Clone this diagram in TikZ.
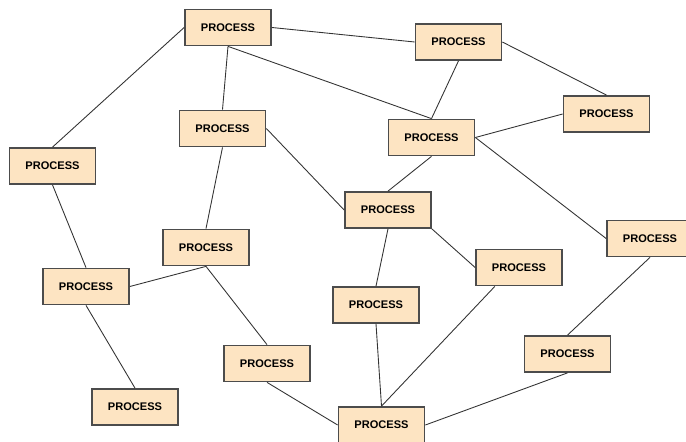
\documentclass[tikz,border=0pt]{standalone}
\usepackage{fontspec}
\setmainfont{Liberation Sans}
\usepackage{tikz}
\usetikzlibrary{positioning,calc}

\definecolor{peach}{RGB}{253,228,194}

\begin{document}
\begin{tikzpicture}[x=0.02cm,y=-0.02cm,semithick,
    process/.style={draw=black!70,line width=1pt,fill=peach,rectangle,minimum width=1.72cm,minimum height=0.72cm,inner sep=0pt,font=\fontsize{6.3}{7}\selectfont\bfseries},
    link/.style={draw=black!80,line width=0.5pt}]
    \useasboundingbox (0,0) rectangle (686,442);

    \node[process] (A) at (228,27.5)  {PROCESS};
    \node[process] (B) at (458.5,42)  {PROCESS};
    \node[process] (C) at (222.5,128.5) {PROCESS};
    \node[process] (D) at (52.5,166)  {PROCESS};
    \node[process] (E) at (606.5,114) {PROCESS};
    \node[process] (F) at (431.5,137.5) {PROCESS};
    \node[process] (G) at (388,210)   {PROCESS};
    \node[process] (H) at (206,247.5) {PROCESS};
    \node[process] (I) at (86,286.5)  {PROCESS};
    \node[process] (J) at (267,363.5) {PROCESS};
    \node[process] (K) at (135,407)   {PROCESS};
    \node[process] (L) at (650,238.5) {PROCESS};
    \node[process] (M) at (519,267.5) {PROCESS};
    \node[process] (N) at (376,305)   {PROCESS};
    \node[process] (O) at (567.5,354) {PROCESS};
    \node[process] (Q) at (381.5,425) {PROCESS};

    \path[link] (A.east) edge (B.west)
    (A.west)  edge (D.north)
    (A.south) edge (C.north)
    (A.south) edge (F.north)
    (B.south) edge (F.north)
    (B.east)  edge (E.north)
    (F.east)  edge (E.west)
    (F.south) edge (G.north)
    (F.east)  edge (L.west)
    (C.east)  edge (G.west)
    (C.south) edge (H.north)
    (D.south) edge (I.north)
    (I.east)  edge (H.south)
    (H.south) edge (J.north)
    (I.south) edge (K.north)
    (J.south) edge (Q.west)
    (G.south east) edge (M.west)
    (G.south) edge (N.north)
    (N.south) edge (Q.north)
    (M.218)   edge (Q.north)
    (L.south) edge (O.north)
    (O.south) edge (Q.east);
\end{tikzpicture}
\end{document}
